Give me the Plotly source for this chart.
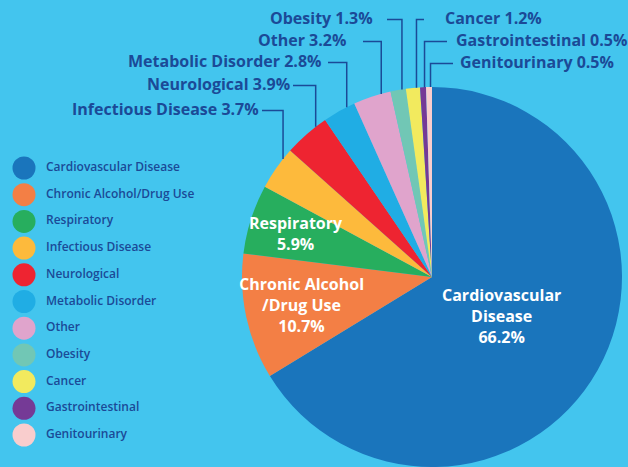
import math
import plotly.graph_objects as go

# data
categories = ["Cardiovascular Disease", "Chronic Alcohol/Drug Use", "Respiratory",
              "Infectious Disease", "Neurological", "Metabolic Disorder", "Other",
              "Obesity", "Cancer", "Gastrointestinal", "Genitourinary"]
shares = [66.2, 10.7, 5.9, 3.7, 3.9, 2.8, 3.2, 1.3, 1.2, 0.5, 0.5]
inside_names = ["Cardiovascular<br>Disease", "Chronic Alcohol<br>/Drug Use", "Respiratory"]
callout_cats = ["Obesity", "Other", "Metabolic Disorder", "Neurological",
                "Infectious Disease", "Cancer", "Gastrointestinal", "Genitourinary"]

colors = ["#1A75BC", "#F37F45", "#27AE5E", "#FDBA3C", "#EE2431", "#20ADE4",
          "#E0A4CC", "#71C7B5", "#F2EA5E", "#753A96", "#F9CDCD"]

W, H = 628, 467
BG = "#43C5EE"
INK = "#1B4A97"
FONT = "Open Sans"
CX, CY, R = 432, 277, 190


def px(x):
    return x / W


def py(y):
    return min(1, max(0, 1 - y / H))


total = sum(shares)
starts = []
acc = 0
for s in shares:
    starts.append(acc / total)
    acc += s


def on_circle(frac, r=R):
    a = 2 * math.pi * frac
    return CX + r * math.sin(a), CY - r * math.cos(a)


fig = go.Figure()

fig.add_trace(go.Pie(
    labels=categories, values=shares, sort=False, direction="clockwise", rotation=0,
    marker=dict(colors=colors, line=dict(width=0)),
    textinfo="none", hoverinfo="label+percent",
    domain=dict(x=[px(CX - R), px(CX + R)], y=[py(CY + R), py(CY - R)]),
    showlegend=False,
))

# legend drawn as circles + labels
fig.add_trace(go.Scatter(
    x=[0] * len(categories), y=categories, mode="markers",
    marker=dict(size=23, color=colors, line=dict(width=0)),
    hoverinfo="skip", showlegend=False,
))
fig.add_trace(go.Scatter(
    x=[22] * len(categories), y=categories, mode="text", text=categories,
    textposition="middle right",
    textfont=dict(family=FONT, size=12, color=INK, weight=600),
    hoverinfo="skip", showlegend=False,
))

annotations = []
# inside labels
inside_r = [0.42, 0.7, 0.75]
for i, name in enumerate(inside_names):
    mid = starts[i] + shares[i] / total / 2
    x, y = on_circle(mid, R * inside_r[i])
    annotations.append(dict(
        x=px(x), y=py(y), xref="paper", yref="paper", showarrow=False,
        xanchor="center", yanchor="middle",
        text=f"{name}<br>{shares[i]}%", align="center",
        font=dict(family=FONT, size=16, color="white", weight="bold"),
    ))

# callouts: label y, label x, horizontal line end on label side
label_y = [18, 40, 61, 84, 109, 18, 40, 62]
label_x = [375, 348, 323, 292, 261, 443, 454, 458]
line_end = [387, 363, 328, 293, 262, 424, 447, 453]
shapes = []
for k, cat in enumerate(callout_cats):
    i = categories.index(cat)
    frac = starts[i] + 0.75 * shares[i] / total
    vx, vy = on_circle(frac)
    ly = label_y[k] + 1.5
    left = label_x[k] < vx
    annotations.append(dict(
        x=px(label_x[k]), y=py(label_y[k]), xref="paper", yref="paper", showarrow=False,
        xanchor="right" if left else "left", yanchor="middle",
        text=f"{cat} {shares[i]}%",
        font=dict(family=FONT, size=16, color=INK, weight="bold"),
    ))
    path = (f"M {px(line_end[k])} {py(ly)} L {px(vx)} {py(ly)} "
            f"L {px(vx)} {py(vy)}")
    shapes.append(dict(type="path", path=path, xref="paper", yref="paper",
                       line=dict(color=INK, width=1.5)))

step = 26.7
fig.update_layout(
    width=W, height=H,
    margin=dict(l=0, r=0, t=0, b=0),
    paper_bgcolor=BG, plot_bgcolor=BG,
    xaxis=dict(domain=[0, 1], range=[-24, W - 24], visible=False, fixedrange=True),
    yaxis=dict(domain=[0, 1], type="category", categoryorder="array", categoryarray=categories,
               range=[10 + (H - 435) / step, -168 / step], visible=False, fixedrange=True),
    annotations=annotations,
    shapes=shapes,
    showlegend=False,
)

fig.write_html("out.html", config={"displayModeBar": False},
               post_script="document.body.style.margin='0';document.body.style.overflow='hidden';")
